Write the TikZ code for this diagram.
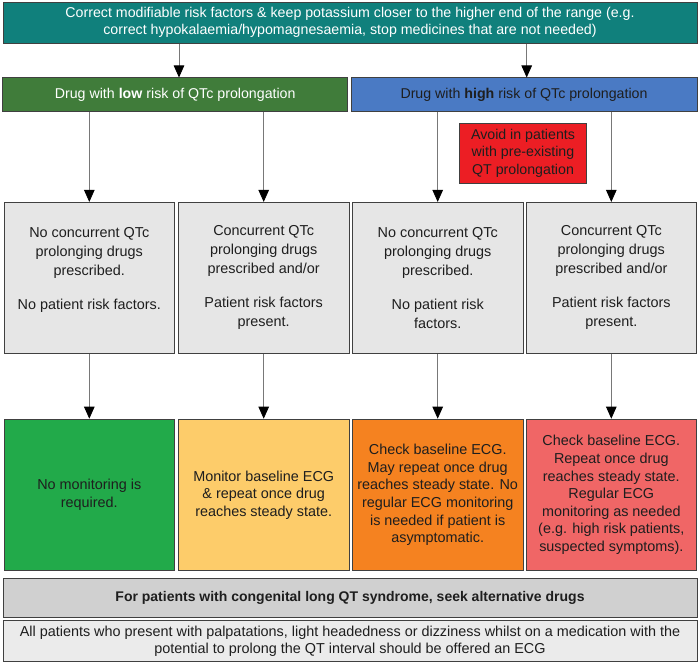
\documentclass[tikz,border=0pt]{standalone}
\usepackage{fontspec}
\setmainfont{Liberation Sans}
\usepackage{tikz}
\usetikzlibrary{arrows.meta}
\definecolor{qtTeal}{RGB}{16,128,124}
\definecolor{qtGreen}{RGB}{64,124,58}
\definecolor{qtBlue}{RGB}{74,122,196}
\definecolor{qtRed}{RGB}{236,30,36}
\definecolor{qtCell}{RGB}{230,230,230}
\definecolor{qtNone}{RGB}{34,170,74}
\definecolor{qtLow}{RGB}{253,204,106}
\definecolor{qtMid}{RGB}{245,130,32}
\definecolor{qtHigh}{RGB}{240,102,102}
\definecolor{qtNote}{RGB}{208,208,208}
\definecolor{qtLast}{RGB}{235,235,235}
\definecolor{qtEdge}{RGB}{64,64,64}
\definecolor{qtLine}{RGB}{120,120,120}
\definecolor{qtInk}{RGB}{30,30,30}

\begin{document}
\begin{tikzpicture}[x=1pt,y=-1pt,
    box/.style={draw=qtEdge,line width=.9pt,inner sep=2pt,align=center,text=qtInk},
    cell/.style={box,fill=qtCell,minimum width=170.5pt,minimum height=151pt,font=\fontsize{14.4}{19}\selectfont},
    result/.style={box,minimum width=170.5pt,minimum height=151.5pt,font=\fontsize{14.4}{17.6}\selectfont},
    conn/.style={draw=qtLine,line width=.8pt,-{Triangle[width=10.5pt,length=12pt,color=black]}},
    wire/.style={draw=qtLine,line width=.8pt}]
  \useasboundingbox (0,0) rectangle (700,666);
  \node[box,fill=qtTeal,text=white,minimum width=694pt,minimum height=41pt,font=\fontsize{14.2}{17}\selectfont] (top) at (350,22.7)
    {Correct modifiable risk factors \& keep potassium closer to the higher end of the range (e.g.\\
     correct hypokalaemia/hypomagnesaemia, stop medicines that are not needed)};
  \node[box,fill=qtGreen,text=white,minimum width=345pt,minimum height=33.7pt,font=\fontsize{14.2}{17}\selectfont] (low) at (175.2,94.8)
    {Drug with \textbf{low} risk of QTc prolongation};
  \node[box,fill=qtBlue,minimum width=346pt,minimum height=33.7pt,font=\fontsize{14.2}{17}\selectfont] (high) at (524,94.8)
    {Drug with \textbf{high} risk of QTc prolongation};
  \node[box,fill=qtRed,minimum width=127.4pt,minimum height=59.7pt,font=\fontsize{14.2}{17.5}\selectfont] (avoid) at (523,153.2)
    {Avoid in patients\\with pre-existing\\QT prolongation};

  \node[cell] (g1) at (89.3,277.9) {No concurrent QTc\\prolonging drugs\\prescribed.\\[15pt]No patient risk factors.\\\mbox{}};
  \node[cell] (g2) at (263.7,277.9) {Concurrent QTc\\prolonging drugs\\prescribed and/or\\[15pt]Patient risk factors\\present.};
  \node[cell] (g3) at (437.7,277.9) {No concurrent QTc\\prolonging drugs\\prescribed.\\[15pt]No patient risk\\factors.};
  \node[cell] (g4) at (611.3,277.9) {Concurrent QTc\\prolonging drugs\\prescribed and/or\\[15pt]Patient risk factors\\present.};

  \node[result,fill=qtNone] (r1) at (89.3,494.9) {No monitoring is\\required.};
  \node[result,fill=qtLow] (r2) at (263.7,494.9) {Monitor baseline ECG\\\& repeat once drug\\reaches steady state.};
  \node[result,fill=qtMid] (r3) at (437.7,494.9) {Check baseline ECG.\\May repeat once drug\\reaches steady state. No\\regular ECG monitoring\\is needed if patient is\\asymptomatic.};
  \node[result,fill=qtHigh] (r4) at (611.3,494.9) {Check baseline ECG.\\Repeat once drug\\reaches steady state.\\Regular ECG\\monitoring as needed\\(e.g. high risk patients,\\suspected symptoms).};

  \node[box,fill=qtNote,minimum width=694pt,minimum height=39.4pt,font=\fontsize{14}{17}\selectfont\bfseries] (congenital) at (350,598)
    {For patients with congenital long QT syndrome, seek alternative drugs};
  \node[box,fill=qtLast,minimum width=694pt,minimum height=41.7pt,font=\fontsize{14.4}{17}\selectfont] (symptoms) at (350,640.9)
    {All patients who present with palpatations, light headedness or dizziness whilst on a medication with the\\
     potential to prolong the QT interval should be offered an ECG};

  \draw[conn] ([xshift=3.8pt]low.north |- top.south) -- ([xshift=3.8pt]low.north);
  \draw[conn] ([xshift=2.7pt]high.north |- top.south) -- ([xshift=2.7pt]high.north);
  \draw[conn] (g1.north |- low.south) -- (g1.north);
  \draw[conn] (g2.north |- low.south) -- (g2.north);
  \draw[conn] (g3.north |- high.south) -- (g3.north);
  \draw[conn] (g4.north |- high.south) -- (g4.north);
  \draw[conn] (g1.south) -- (r1.north);
  \draw[conn] (g2.south) -- (r2.north);
  \draw[conn] (g3.south) -- (r3.north);
  \draw[conn] (g4.south) -- (r4.north);
\end{tikzpicture}
\end{document}
